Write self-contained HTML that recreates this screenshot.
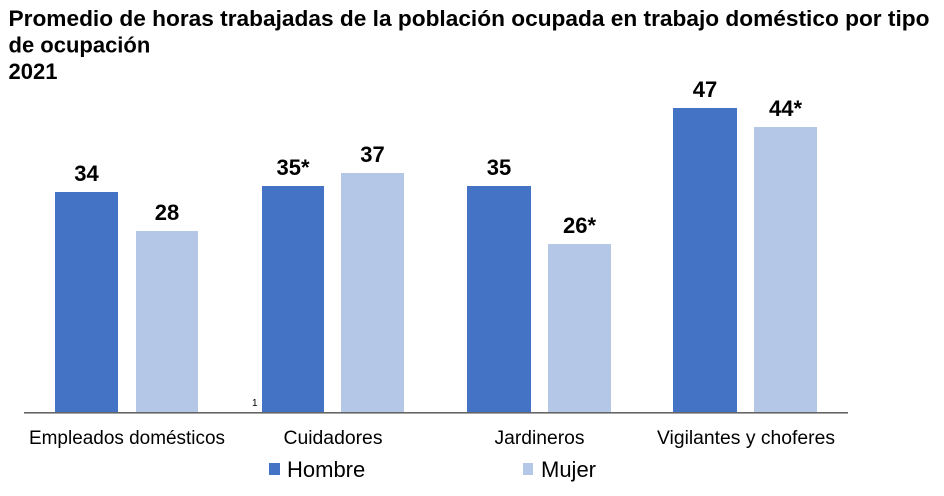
<!DOCTYPE html>
<html>
<head>
<meta charset="utf-8">
<style>
  html, body { margin: 0; padding: 0; background: #ffffff; }
  svg { display: block; }
  text { font-family: "Liberation Sans", Arial, sans-serif; fill: #000; }
</style>
</head>
<body>
<svg width="944" height="496" viewBox="0 0 944 496" xmlns="http://www.w3.org/2000/svg">
  <rect x="0" y="0" width="944" height="496" fill="#ffffff"/>
  <!-- Title -->
  <text x="8.5" y="26" font-size="22" font-weight="bold" textLength="921" lengthAdjust="spacingAndGlyphs">Promedio de horas trabajadas de la población ocupada en trabajo doméstico por tipo</text>
  <text x="8.5" y="52.5" font-size="22" font-weight="bold">de ocupación</text>
  <text x="8.5" y="79" font-size="22" font-weight="bold">2021</text>

  <!-- Bars -->
  <g>
    <rect x="55" y="192" width="63" height="220" fill="#4472C4"/>
    <rect x="136" y="231" width="62" height="181" fill="#B4C7E7"/>
    <rect x="262" y="186" width="62" height="226" fill="#4472C4"/>
    <rect x="341" y="173" width="63" height="239" fill="#B4C7E7"/>
    <rect x="467" y="186" width="64" height="226" fill="#4472C4"/>
    <rect x="548" y="244" width="63" height="168" fill="#B4C7E7"/>
    <rect x="673" y="108" width="64" height="304" fill="#4472C4"/>
    <rect x="754" y="127" width="63" height="285" fill="#B4C7E7"/>
  </g>

  <!-- Value labels -->
  <g font-size="22" font-weight="bold" text-anchor="middle">
    <text x="86.5" y="181">34</text>
    <text x="167" y="220">28</text>
    <text x="293" y="175">35*</text>
    <text x="372.5" y="162">37</text>
    <text x="499" y="175">35</text>
    <text x="579.5" y="233">26*</text>
    <text x="705" y="97">47</text>
    <text x="785.5" y="116">44*</text>
  </g>

  <!-- Axis line -->
  <line x1="24" y1="412.8" x2="848" y2="412.8" stroke="#4d4d4d" stroke-width="1.3"/>

  <!-- small "1" -->
  <text x="252" y="406" font-size="10">1</text>

  <!-- Category labels -->
  <g font-size="19" text-anchor="middle">
    <text x="127" y="444" textLength="196" lengthAdjust="spacingAndGlyphs">Empleados domésticos</text>
    <text x="333" y="444" textLength="99" lengthAdjust="spacingAndGlyphs">Cuidadores</text>
    <text x="539.5" y="444" textLength="90" lengthAdjust="spacingAndGlyphs">Jardineros</text>
    <text x="746" y="444" textLength="178" lengthAdjust="spacingAndGlyphs">Vigilantes y choferes</text>
  </g>

  <!-- Legend -->
  <rect x="269" y="463" width="11" height="12" fill="#4472C4"/>
  <text x="287" y="477" font-size="22">Hombre</text>
  <rect x="523" y="463" width="10" height="12" fill="#B4C7E7"/>
  <text x="541" y="477" font-size="22">Mujer</text>
</svg>
</body>
</html>
